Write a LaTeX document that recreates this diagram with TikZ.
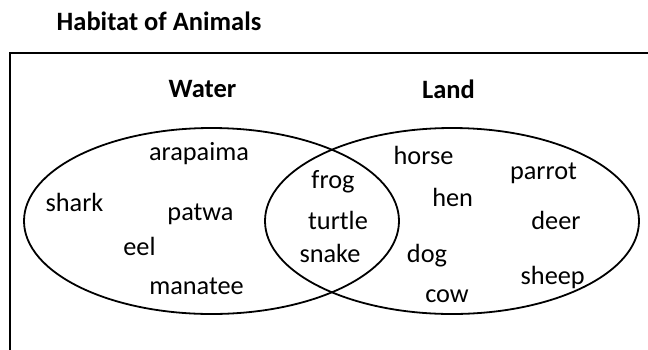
\documentclass[tikz,border=0pt]{standalone}
\usepackage{fontspec}
\setmainfont{Carlito}
\begin{document}
\begin{tikzpicture}[x=1pt,y=-1pt,
  lbl/.style={anchor=base,inner sep=0pt,font=\fontsize{26.3}{31}\selectfont},
  hdr/.style={anchor=base,inner sep=0pt,font=\fontsize{26.5}{31}\selectfont\bfseries},
  line/.style={draw=black,line width=2pt},
  ring/.style={draw=black,line width=1.8pt}]
\useasboundingbox (0,0) rectangle (648,349);
% frame (only left and top edges visible)
\coordinate (fbl) at (9.5,352);
\coordinate (ftl) at (9.5,52.5);
\coordinate (ftr) at (651,52.5);
\draw[line] (fbl) -- (ftl) -- (ftr);
% title
\node[hdr] (title) at (159,30.5) {Habitat of Animals};
% set headers
\node[hdr] (water) at (202.5,97.7) {Water};
\node[hdr] (land) at (448.5,98.3) {Land};
% circles
\draw[ring] (211.5,221) ellipse [x radius=187.5, y radius=93];
\draw[ring] (452,221) ellipse [x radius=187, y radius=93];
% water only
\node[lbl] (arapaima) at (199,160.7) {arapaima};
\node[lbl] (shark) at (74.5,211.7) {shark};
\node[lbl] (patwa) at (200.5,220.7) {patwa};
\node[lbl] (eel) at (139.5,255) {eel};
\node[lbl] (manatee) at (196.5,294) {manatee};
% both
\node[lbl] (frog) at (333,188) {frog};
\node[lbl] (turtle) at (338,229) {turtle};
\node[lbl] (snake) at (330,262.7) {snake};
% land only
\node[lbl] (horse) at (423.5,164) {horse};
\node[lbl] (parrot) at (543.5,179) {parrot};
\node[lbl] (hen) at (452.7,206.7) {hen};
\node[lbl] (deer) at (556,229) {deer};
\node[lbl] (dog) at (427,262.7) {dog};
\node[lbl] (sheep) at (552.7,284) {sheep};
\node[lbl] (cow) at (447,302.7) {cow};
\end{tikzpicture}
\end{document}
